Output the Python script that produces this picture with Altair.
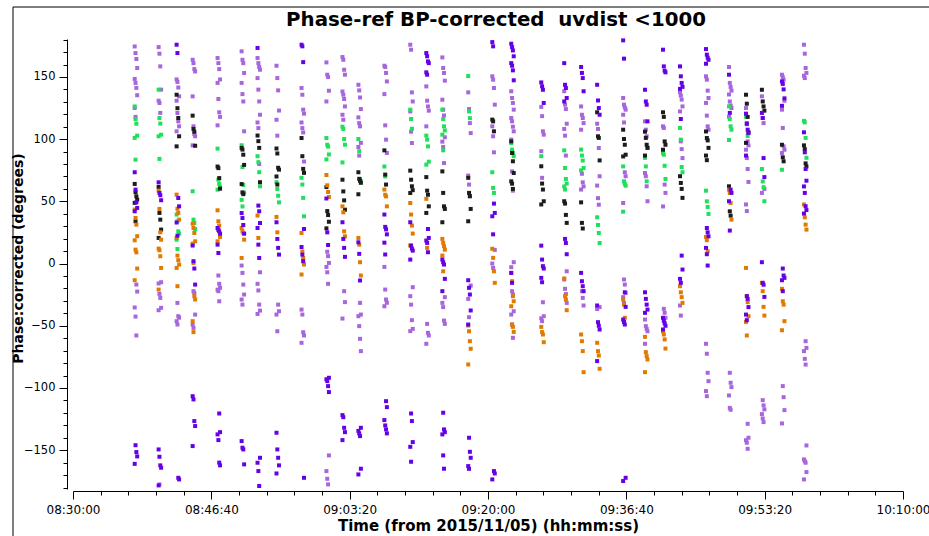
import altair as alt
import pandas as pd

# scan centre times, seconds after 08:30:00
SCAN_T = [455, 628, 758, 874, 1054, 1228, 1343, 1480, 1661, 1841, 1957, 2072, 2260,
          2447, 2563, 2679, 2866, 3040, 3177, 3394, 3560, 3682, 3798, 3986, 4144, 4274,
          4397, 4585, 4751, 4874, 4989, 5134, 5293]
SPREAD = [-9, -3, 3, 9]

LIGHT = [
    [174.5, 169.2, 164.4, 157.2, 148.4, 145.2, 141.2, 135.3, 125.1, 117.9, -16.9, -22.5, -35.3, -42.6, -57.8],
    [174, 168.7, 158.5, 139.8, 130.9, 129.1, 121.1, -15, -16, -24.4, -27.6, -35.6, -37.5, -177.5],
    [148, 146, 141.5, 134.4, 130.9, 121, 114.3, 110.3, 106.3, -31.6, -42.3, -43.5, -46.3, -49],
    [163.8, 161.1, 156.3, 154.4, 134.4, 110.3, 104, 102.3, 95, -22.2, -23.6, -41, -49, -51.7],
    [165.2, 161.1, 156.3, 148, 145.2, 132.3, 121.6, 117.9, 111.1, -9.6, -16.3, -19.5, -21, -22.2, -30.3],
    [170.6, 163.8, 161.1, 153.2, 145.2, 136.2, 130.3, 106.3, -1.6, -7.5, -16.9, -24.9, -28.9, -33],
    [165.2, 161.1, 158, 155.8, 149.1, 139.8, 130.3, 119.6, 113.4, 108.9, 80, -7, -16.3, -21.6, -33, -37.8, -40.5],
    [159, 149.1, 139.2, 123, 115.6, 102.8, -33, -38.3, -41, -54.4],
    [141.1, 135.7, 123.7, 120.5, 113.4, 108.9, 105.4, 82, -37, -41, -55.2, -57.8, -63.7],
    [161.7, 151.8, 149.9, 138.9, 130.3, 9.5, 6, 0.5, -2.7, -7, -16.3, -154.2, -166.8, -173, -177.5],
    [166, 163.8, 155.8, 151.8, 138.3, 135.7, 132.3, 126.3, 119.6, 115.6, -22.2, -31, -44.2],
    [143.7, 139.2, 133.5, 124.2, 117.5, 112.9, 110.3, 97, 93.7, 86.8, -31.6, -41, -42.3, -50.3, -60.5, -70.4],
    [159, 158, 153.2, 146.4, 136.2, 111.1, 99.6, 88.9, -2.7, -20.9, -28.9, -31.5, -34.3],
    [175.9, 171.9, 137.6, 130.3, 122.3, 106, 96.9, -19, -26.2, -33, -45.5, -52.5, -54.3],
    [142.4, 130.9, 126.3, 122.9, 110.3, -48.5, -55.7, -57.8, -64.5],
    [165.7, 157.2, 153.2, 147, 131.7, 123.7, 119, 101.5, 98, 93.7, 80.8, -27, -31.6, -35, -45.8, -48.5],
    [137.6, 124.2, 112.9, 104.9, 70.7, 63.5, 54, -17.7, -28.4, -43.1],
    [150.5, 147.8, 141.1, 127.7, 110.3, 102.3, 89.4, 11, 0, -3.5],
    [138.5, 133.1, 129.1, 123.7, 117, 114.3, 110, 106.3, 99.6, 74.1, 58.6, 1.1, -2.9, -22.2, -24.9, -38.3, -41, -49, -59.7],
    [125.9, 118.5, 106.3, 103.6, 90.3, 68.9, -31.1, -42.3, -44, -46.3],
    [138.5, 127.7, 124.2, 112.4, 108.2, 102.8, 86.8, -6.2, -12.8, -20.3, -24.5, -31.6],
    [126.3, 119.6, 117, 112.9, 107.6, 72.2, 65.3, 62, 59.5, -22.2, -27.6, -33.7],
    [112.4, 108.2, 92.9, 70.2, 62.7, 52.6, 47.3, -35, -36.5],
    [133.1, 127.7, 125.5, 123.7, 119.6, 113.4, 73.4, 70.2, 48.7, -12.8, -16.9, -23.6, -27, -31.6],
    [114.3, 107.6, 102.3, 93, 72.8, 70.2, 62.1, 50.1, -45, -50.3, -52.5, -54.4, -64.5],
    [110.3, 109, 63.5, 56.8, 45.9, -36.4, -39.6, -43.6],
    [137.7, 135, 131.8, 126.3, 122.3, 98.2, 92, 84.8, -33.7, -41.8],
    [150.5, 147.8, 139, 133.1, 129.1, 118.9, 110.3, 107.6, -64.5, -72.5, -87.8, -94.5, -102.5, -106.6],
    [158, 145.2, 142, 139, 135.9, 130.3, 127, 125, 118, -87.8, -95.8, -99.3, -106, -116, -117.5],
    [125, 112, 98.2, 95, 91.5, 84.8, 76, 65.6, 47.5, 42.2, -128.8, -140, -142, -144, -148.9],
    [134.4, 117, 112.9, 60, 56.8, -109.8, -114, -117.2, -121, -124.5, -127.4],
    [151.8, 149.8, 147.8, 130.9, 123.7, 109, 94.2, 91.5, 88.9, -98.5, -107.4, -117.8, -128.5],
    [175.9, 168.7, 157.2, 153.2, 151, 149.1, -62.4, -67.8, -70.4, -76.6, -81.2, -146.2, -157.4, -158.8, -160.1, -167.6, -173.5],
]

GREEN = [
    [126.3, 116.2, 112.4, 102.8, 101, 83.5],
    [139.8, 117, 112.5, 103.6, 102.3, 84.1],
    [39.4, 34, 25.9, 24.1, 19.2, 11.7],
    [58.1, 35.3, 32.6, 27.8],
    [92.4, 67.4, 64, 61.5, 59.4],
    [95.1, 77.6, 63.2, 57, 51.2, 45.9],
    [86.3, 81.5, 73.4, 62.1],
    [65.4, 59.9, 54.5, 49.2],
    [68.9, 63.5, 52.8, 38],
    [100.9, 95.5, 94, 87.7, 83.7],
    [110, 108.2, 100.1, 95.5, 81.3],
    [100.1, 90.3, 68, 66],
    [78, 70],
    [123.7, 116.2, 108.4],
    [102.8, 99.6, 94.2, 81.9, 79.5],
    [123.7, 116.2, 110.3, 107, 103.6, 91],
    [150.7, 122.3, 116.9],
    [73.4, 60.8, 56.8],
    [96.9, 91.6, 89, 86.3],
    [86.3],
    [91, 76.8, 68, 64.3, 62, 59.5],
    [91.6, 86.8, 82.8, 76.8, 74.9],
    [37.2, 31, 24.6, 16.5],
    [78.1, 66.1, 64, 62.6, 41.7],
    [85, 78.1, 66.1],
    [88.9, 87.5, 78.6, 68],
    [109, 99.6, 77.6, 73.4],
    [58.6, 50, 45.5, 39.9],
    [126.3, 116.2, 110.3, 107.6, 99.3],
    [118, 113, 102.6],
    [76, 66, 61.4, 50.1],
    [75.4],
    [114.7, 113.5, 101, 85],
]

BLACK = [
    [64, 57.3, 54, 51.4, 48.8, 34],
    [61.6, 40.7, 35.3, 27.3, 20.6],
    [135.7, 124.9, 117, 102.3, 94.2],
    [118.9, 108.2, 106, 94.7],
    [78, 76.7, 68.7, 60.2],
    [93, 91.6, 87.5, 79.3, 63.9, 57.2, 55.8],
    [102.9, 98.4, 93, 65.4],
    [92.5, 88.5, 77, 75.5, 70, 63.5],
    [100.9, 86.3, 76.1, 72.9],
    [61.5, 42.2, 39, 33.6, 28.3],
    [67.4, 58, 50.8, 43.3],
    [73.4, 68.1, 66.5, 64.9, 55.7],
    [91, 71.5, 63.5],
    [74.7, 67.4, 62.1, 59, 56.7],
    [69.5, 58.6, 55.3, 46, 40.7],
    [74.1, 56.8, 46, 43.9, 33.2],
    [68.9, 56.8, 54.2, 43.9, 34],
    [115.7, 114.3, 106.3],
    [98.2, 88.9, 82.2, 72.8, 66.1, 64.2, 60],
    [78.2, 64.3, 59.5, 50.1, 47.5],
    [50.1, 48.2, 39.1, 32.7],
    [49.2, 32.7, 28.2],
    [121.6, 102.3, 101, 82.9],
    [107.6, 100.1, 95.5, 87.5, 86.1],
    [106, 101, 95.5, 93, 86.8],
    [121.6, 117.9, 98.2, 95.5, 91.5],
    [70.2, 64.8, 60, 52.8],
    [106.2, 100.9, 99, 93, 86.8, 83.1],
    [62.1, 42, 38.5],
    [135.7, 128.5, 117.9, 105.6, 97],
    [139.7, 130.3, 126.3, 122.9],
    [95.5, 85.4, 82.2],
    [95, 92, 80.5, 78],
]

ORANGE = [
    [43.4, 36.7, 31.3, 22, 18.7, 11.2, 9, -4, -13.4],
    [58.6, 43.9, 25.1, 19.2, 12, 10.7, 5.9, -3.5, -20.9],
    [55.4, 44, 40.7, 35.3, 20.6, 6.4, 2.7, -0.8, -3.5, -18.2],
    [32, 28.6, 24.6, 17.9, 16, 0.5, -26.2, -28.9, -46.3, -55.1],
    [42.8, 34, 30.5, 21.4, 17.9],
    [28.6, 25.9, 24.6, 19.2, 4.5],
    [38.6, 20.6],
    [37.5, 25.1],
    [24.6, 9.8, 4.5, -0.8, -8.8],
    [71.2, 62.9, 57.6, 53.5],
    [46, 41.2, 25.9, 21.9],
    [20.6, 15.2, 1.1, -9.6],
    [59.5, 55.3, 54, 46],
    [48.7, 39.4, 30.5, 24.1, 14.5],
    [52, 12.6],
    [19.8, 16.6, 14, 11.2, 6.4, -6.2],
    [-49.8, -54.4, -62.4, -68.5, -81.1],
    [11.9, 4.6, -6.2, -15.5],
    [-7.5, -14.2, -26.2, -30.3, -34.3, -49, -50.9, -54.9],
    [-50.9, -55.1, -57, -63.2],
    [-12, -26.2, -28.9, -37.5],
    [-57, -62.4, -70.4, -87.3],
    [-63.7, -70.4, -73.9, -84.6],
    [-28.9, -33, -43.6],
    [-58.9, -71.2, -74.4, -77.1, -87.3],
    [-54.4, -57, -61, -68.3],
    [-18.2, -23.1, -27, -31.6],
    [21.4, 18.8, 9.9],
    [59.4, 56.8, 48.7, 35.3],
    [-3.5, -26.2, -31, -42.3, -46.9, -57.8],
    [-15.5, -22.2, -34.8, -41.8],
    [-20.3, -30.3, -33, -46.3, -53.6],
    [47.5, 37.2, 31.3, 27.3],
]

DARK = [
    [73.4, 59.4, 49.2, 44.7, 42, -146, -151.5, -155, -161],
    [65.3, 56.8, 54.9, 50.9, -149.4, -155.3, -162.2, -164.1, -178.3],
    [175.9, 169.2, 52.7, 46, 33, 22.4, -172.2, -173.5],
    [14.5, 1.9, -4, -16.9, -106.6, -109.2, -126.6, -130.6, -146.7],
    [28.6, 27, 25.9, 24, 15.2, 8.5, -120.5, -135.5, -137.3, -141.9, -160, -162.2],
    [40.6, 36.6, 31, 24, -142.7, -148, -149.4, -161.4],
    [173.3, 46.6, 42, 32.6, 28.6, 15.2, 4.5, -156.1, -160.1, -166.8, -178.8],
    [33.2, 19.8, 12.6, 7.2, -136, -149.4, -156.1, -162.2, -168.7],
    [175.9, 174.6, 161.9, 27.8, 13.3, 7.2, 1.9, -172.2],
    [52.3, 25.1, 14.9, -91.8, -93, -94.5, -98.5, -103.3],
    [33.2, 19.8, 12.6, 5.4, -121.8, -123.5, -132, -135.5, -141.9],
    [17.1, 7.8, -13.6, -132, -134.5, -136.5, -138.7, -164.9, -169.5],
    [39.4, 29.5, 27.5, 23.5, 16.8, 7.3, -110.6, -115.4, -125.8, -130.1, -133.3, -136.5],
    [33.2, 14.5, 12, 10.4, 3.2, -120.5, -126.6, -143.5, -147.3, -159.3],
    [169.2, 166.6, 162.5, 161.1, 153.7, 151.8, 27.8, 20.6, 18.5, 16.6, 9.1],
    [3.2, 1, -0.8, -12.3, -22.2, -119.9, -133.3, -135.5, -137.3, -154.2, -164.9],
    [-13.4, -19.5, -24.9, -37.7, -49, -140, -151.3, -156.1, -162.8, -165],
    [178, 174.6, 48.2, 40.7, 38, 23.5, -166.8, -168.7, -173.5],
    [176.7, 174, 171.3, 166.6, 161.1, 159, 155.3, 147.3, -7.5, -15.5],
    [145.6, 142.5, 139.7, 129.1, 14.4, 3.2, -2.1, -4, -11.5, -15],
    [161.1, 143.7, 141.1, 133.1, 130.3, 19.8, 16.5, 7.5],
    [158, 153.2, 149.1, 138.5, -7.5, -14.2, -18.2, -22.2],
    [143.7, 131.1, 125, 119.6, -33.7, -47.1, -50, -53, -78.4],
    [179.4, 164.7, -23.1, -34.8, -45, -47, -49, -172.2, -174.8],
    [139.7, 130.3, 127.7, 114.3, -23.1, -28.4, -33, -37, -39.6],
    [171.9, 158.5, 155, 153.7, -43.6, -46, -48, -50, -53],
    [158.5, 150.5, 145.2, 142, 140.4, 116.2, 6.4, -4.8, -12.3, -15.5],
    [172.4, 167.9, 165.5, 163.8, 160.6, 28.6, 25.1, 21.9, 12.6, 7.5, -1.6],
    [151.8, 121.1, 59.4, 56.8, 50.1, 26.5],
    [120.5, 112.4, 107.6, 105, 86.8, -26.2, -28.4, -35, -41, -45.5],
    [121.1, 117, 84.8, 69.5, 1.1, -15.5, -17, -26.8],
    [146.4, 144.4, 140, 132.8, 126.8, -4, -9.6, -11.5, -13.4, -22.2],
    [105.5, 89.4, 76, 66.6, 62, 56.8, 46.1, 43, 40.2],
]

GROUPS = ["light", "green", "black", "orange", "dark"]
COLORS = ["#a866dc", "#1ee05a", "#1c1c1c", "#e27a00", "#6600e6"]
TITLE = "Phase-ref BP-corrected\u00a0\u00a0uvdist <1000"

rows = []
for name, series in zip(GROUPS, [LIGHT, GREEN, BLACK, ORANGE, DARK]):
    for i, vals in enumerate(series):
        for j, v in enumerate(vals):
            rows.append({"t": SCAN_T[i] + SPREAD[j % len(SPREAD)], "phase": v, "grp": name})
df = pd.DataFrame(rows)

XMAJ = list(range(0, 6001, 1000))
XMIN = [v for v in range(0, 6001, 200) if v % 1000]
YMAJ = list(range(-150, 151, 50))
YMIN = [v for v in range(-180, 181, 10) if v % 50]

xscale = alt.Scale(domain=[0, 6000], nice=False, zero=False)
yscale = alt.Scale(domain=[-181.2, 180.5], nice=False, zero=False)
FONT = "DejaVu Sans"

label_expr = "timeFormat(datetime(2015, 10, 5, 8, 30, datum.value), '%H:%M:%S')"

points = alt.Chart(df).mark_square(size=16, opacity=1).encode(
    x=alt.X("t:Q", scale=xscale, axis=alt.Axis(
        orient="bottom", values=XMAJ, labelExpr=label_expr, tickSize=8, offset=2,
        tickColor="black", domainColor="black", labelColor="black", grid=False,
        labelFont=FONT, labelFontSize=12, labelPadding=5, labelOverlap=False, labelFlush=False,
        title="Time (from 2015/11/05) (hh:mm:ss)", titleFont=FONT, titleFontSize=15,
        titleFontWeight="bold", titleColor="black", titleBaseline="alphabetic", titleY=39)),
    y=alt.Y("phase:Q", scale=yscale, axis=alt.Axis(
        orient="left", values=YMAJ, tickSize=8, offset=6,
        tickColor="black", domainColor="black", labelColor="black", grid=False,
        labelFont=FONT, labelFontSize=11.5, labelPadding=4,
        title="Phase:corrected (degrees)", titleFont=FONT, titleFontSize=14,
        titleFontWeight="bold", titleColor="black", titleAngle=270,
        titleBaseline="alphabetic", titleX=-45, titleY=219)),
    color=alt.Color("grp:N", scale=alt.Scale(domain=GROUPS, range=COLORS), legend=None),
)

minor = alt.Chart(df).mark_point(opacity=0).encode(
    x=alt.X("t:Q", scale=xscale, title=None, axis=alt.Axis(
        orient="bottom", values=XMIN, tickSize=4, offset=2, labels=False, domain=False,
        tickColor="black", grid=False)),
    y=alt.Y("phase:Q", scale=yscale, title=None, axis=alt.Axis(
        orient="left", values=YMIN, tickSize=4, offset=6, labels=False, domain=False,
        tickColor="black", grid=False)),
)

frame_df = pd.DataFrame({"label": [TITLE]})
left_line = alt.Chart(frame_df).mark_rule(color="black", strokeWidth=1).encode(
    x=alt.value(-60), y=alt.value(-32), y2=alt.value(497))
top_line = alt.Chart(frame_df).mark_rule(color="black", strokeWidth=1).encode(
    x=alt.value(-60), x2=alt.value(856), y=alt.value(-32))
title_text = alt.Chart(frame_df).mark_text(
    font=FONT, fontSize=19.8, fontWeight="bold", color="black",
    align="center", baseline="alphabetic").encode(
    x=alt.value(423), y=alt.value(-13), text="label:N")

chart = alt.layer(points, minor, left_line, top_line, title_text).resolve_axis(
    x="independent", y="independent"
).properties(
    width=830, height=450,
    autosize=alt.AutoSizeParams(type="none"),
    padding={"left": 73, "top": 39, "right": 26, "bottom": 47},
    background="white",
).configure_view(stroke=None)

chart.save("out.html", embed_options={"renderer": "svg", "actions": False})
